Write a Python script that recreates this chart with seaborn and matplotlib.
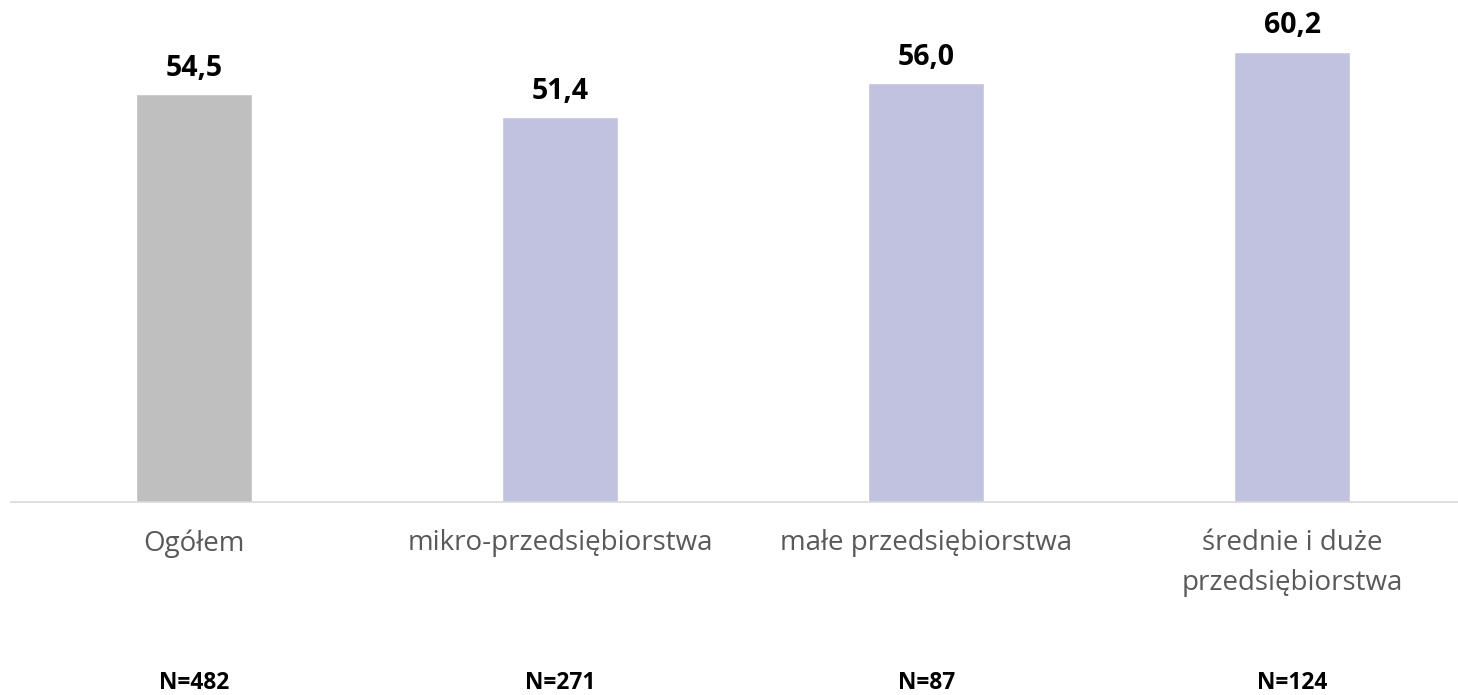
import pandas as pd
import matplotlib.pyplot as plt
import matplotlib.transforms as mtransforms
import seaborn as sns

categories = ["Ogółem", "mikro-przedsiębiorstwa", "małe przedsiębiorstwa", "średnie i duże\nprzedsiębiorstwa"]
values = [54.5, 51.4, 56.0, 60.2]
n_labels = ["N=482", "N=271", "N=87", "N=124"]
colors = ["#BFBFBF", "#C1C1E0", "#C1C1E0", "#C1C1E0"]

df = pd.DataFrame({"category": categories, "value": values})

sns.set_style("white")
plt.rcParams["font.family"] = ["Open Sans", "DejaVu Sans"]

fig = plt.figure(figsize=(14.58, 6.95), dpi=100)
# axes bottom sits on the grey baseline (~y=502 px)
ax = fig.add_axes([11 / 1458, 193 / 695, 1447 / 1458, 502 / 695])

sns.barplot(data=df, x="category", y="value", hue="category", palette=colors,
            width=0.317, legend=False, ax=ax, saturation=1)

ax.set_xlim(-0.5, 3.453)
ax.set_ylim(0, 67.1)
ax.set_xlabel("")
ax.set_ylabel("")
ax.set_yticks([])
ax.set_xticks([])
for side in ["top", "right", "left"]:
    ax.spines[side].set_visible(False)
ax.spines["bottom"].set_color("#D9D9D9")
ax.spines["bottom"].set_linewidth(1.2)

for i, v in enumerate(values):
    ax.text(i, v + 2.45, f"{v:.1f}".replace(".", ","), ha="center", va="baseline",
            fontsize=20.5, fontweight="bold", color="black")

trans = mtransforms.blended_transform_factory(ax.transData, fig.transFigure)
for i, cat in enumerate(categories):
    ax.text(i, 1 - 529 / 695, cat, ha="center", va="top", fontsize=20,
            color="#595959", transform=trans, linespacing=1.55)
    ax.text(i, 1 - 683 / 695, n_labels[i], ha="center", va="center", fontsize=16.4,
            fontweight="bold", color="black", transform=trans)

fig.savefig("out.png", dpi=100)
